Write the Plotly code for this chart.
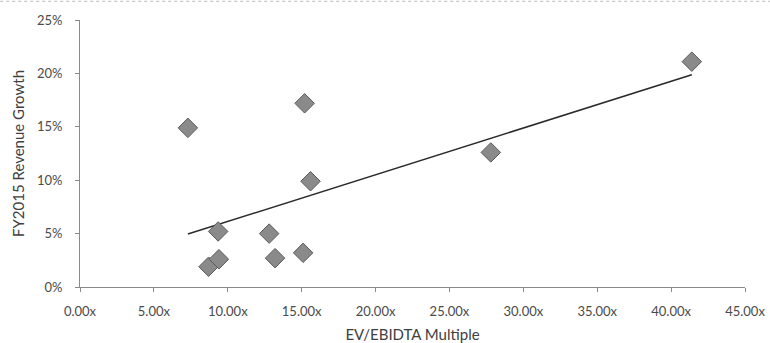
import numpy as np
import plotly.graph_objects as go

ev_ebitda = [7.3, 15.2, 15.6, 9.35, 12.8, 13.2, 15.1, 8.7, 9.4, 27.8, 41.4]
rev_growth = [0.149, 0.172, 0.099, 0.052, 0.050, 0.027, 0.032, 0.019, 0.026, 0.126, 0.211]

x_ticks = [0, 5, 10, 15, 20, 25, 30, 35, 40, 45]
x_tick_text = ["0.00x", "5.00x", "10.00x", "15.00x", "20.00x", "25.00x", "30.00x", "35.00x", "40.00x", "45.00x"]
y_ticks = [0, 0.05, 0.10, 0.15, 0.20, 0.25]
y_tick_text = ["0%", "5%", "10%", "15%", "20%", "25%"]

slope, intercept = np.polyfit(ev_ebitda, rev_growth, 1)
trend_x = [min(ev_ebitda), max(ev_ebitda)]
trend_y = [slope * v + intercept for v in trend_x]

fig = go.Figure()
fig.add_trace(go.Scatter(
    x=trend_x, y=trend_y, mode="lines",
    line=dict(color="#2a2a2a", width=1.5), showlegend=False, hoverinfo="skip"))
fig.add_trace(go.Scatter(
    x=ev_ebitda, y=rev_growth, mode="markers",
    marker=dict(symbol="diamond", size=15, color="#8a8a8a",
                line=dict(color="#5a5a5a", width=1)),
    showlegend=False))

font = "Lato, 'Open Sans', sans-serif"
fig.update_layout(
    width=770, height=343,
    margin=dict(l=80, r=25, t=20, b=56),
    paper_bgcolor="white", plot_bgcolor="white",
    font=dict(family=font, size=13, color="#4a4a4a"),
    xaxis=dict(range=[0, 45], tickvals=x_ticks, ticktext=x_tick_text,
               showgrid=False, zeroline=False, showline=True, automargin=False,
               linecolor="#8a8a8a", linewidth=1, ticks="outside",
               ticklen=4, tickcolor="#8a8a8a", ticklabelstandoff=8,
               title=dict(text="EV/EBIDTA Multiple", standoff=11,
                          font=dict(size=15, color="#404040"))),
    yaxis=dict(range=[0, 0.25], tickvals=y_ticks, ticktext=y_tick_text,
               showgrid=False, zeroline=False, showline=True, automargin=False,
               linecolor="#8a8a8a", linewidth=1, ticks="outside",
               ticklen=4, tickcolor="#8a8a8a", ticklabelstandoff=10,
               title=dict(text="FY2015 Revenue Growth", standoff=8,
                          font=dict(size=15, color="#404040"))),
)
fig.add_shape(type="line", xref="paper", yref="paper", x0=-0.12, x1=1.04,
              y0=1.07, y1=1.07, line=dict(color="#bbbbbb", width=1, dash="dot"))

fig.write_html("out.html")
